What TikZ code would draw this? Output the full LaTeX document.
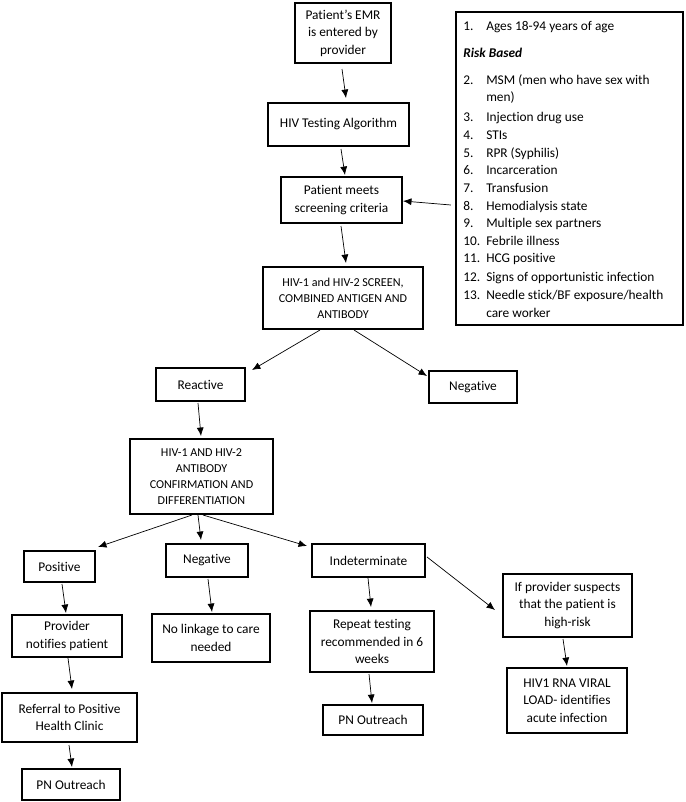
\documentclass[tikz,border=0pt]{standalone}
\usepackage{fontspec}
\setmainfont{Carlito}[Ligatures={TeX,NoCommon}]
\usetikzlibrary{arrows.meta}

\begin{document}
\begin{tikzpicture}[x=0.025cm,y=-0.025cm,
  box/.style 2 args={draw,line width=0.9pt,minimum width=#1,minimum height=#2,
    inner sep=0pt,outer sep=0pt,align=center,font=\fontsize{9.5}{12.4}\selectfont},
  capsbox/.style 2 args={box={#1}{#2},font=\fontsize{8.6}{11.4}\selectfont},
  arr/.style={line width=0.5pt,-{Latex[length=6pt,width=5pt]}},
  item/.style={anchor=base west,inner sep=0pt,font=\fontsize{9.5}{12.4}\selectfont}]
\useasboundingbox (0,0) rectangle (685,802);

% top of the chart
\node[box={2.4cm}{1.5cm}] (emr) at (343,33) {Patient's EMR\\is entered by\\provider};
\node[box={3.525cm}{1.075cm}] (alg) at (338.5,124.5) {HIV Testing Algorithm};
\node[box={3.025cm}{1.15cm}] (meets) at (341.5,200) {Patient meets\\screening criteria};
\node[box={5.675cm}{7.825cm}] (risk) at (569.5,168.5) {};
\node[capsbox={4cm}{1.55cm}] (screen) at (343,298) {HIV-1 and HIV-2 SCREEN,\\COMBINED ANTIGEN AND\\ANTIBODY};

% criteria list
\node[item] (r0) at (463,30) {1.};
\node[item] (r0t) at (486,30) {Ages 18-94 years of age};
\node[item] (rb) at (463,57) {\textbf{\textit{Risk Based}}};
\foreach \y/\n/\t [count=\i] in {84/2./MSM (men who have sex with, 101//men),
    121/3./Injection drug use, 139/4./STIs, 157/5./RPR (Syphilis),
    174/6./Incarceration, 192/7./Transfusion, 210/8./Hemodialysis state,
    227/9./Multiple sex partners, 245/10./Febrile illness, 262/11./HCG positive,
    281/12./Signs of opportunistic infection,
    299/13./{Needle stick/BF exposure/health}, 317//care worker}
{
  \node[item] (rn\i) at (463,\y) {\n};
  \node[item] (rt\i) at (486,\y) {\t};
}

% results
\node[box={2.225cm}{0.825cm}] (reactive) at (200.5,384.5) {Reactive};
\node[box={2.2cm}{0.8cm}] (neg1) at (473,387) {Negative};
\node[capsbox={3.575cm}{1.875cm}] (antibody) at (201.5,476.5) {HIV-1 AND HIV-2\\ANTIBODY\\CONFIRMATION AND\\DIFFERENTIATION};
\node[box={1.775cm}{0.775cm}] (pos) at (59.5,566.5) {Positive};
\node[box={2.05cm}{0.825cm}] (neg2) at (207,560.5) {Negative};
\node[box={2.825cm}{0.825cm}] (indet) at (368.5,560.5) {Indeterminate};

% follow-up
\node[box={2.75cm}{1.05cm}] (provider) at (67,636) {Provider\\notifies patient};
\node[box={2.95cm}{1.2cm}] (nolink) at (211,638) {No linkage to care\\needed};
\node[box={3.1cm}{1.525cm}] (repeat) at (372,641.5) {Repeat testing\\recommended in 6\\weeks};
\node[box={3.225cm}{1.575cm}] (suspect) at (567.5,605.5) {If provider suspects\\that the patient is\\high-risk};
\node[box={3cm}{1.625cm}] (rna) at (567,700.5) {HIV1 RNA VIRAL\\LOAD- identifies\\acute infection};
\node[box={2.5cm}{0.75cm}] (pn1) at (373,720) {PN Outreach};
\node[box={3.375cm}{1.225cm}] (referral) at (69.5,717.5) {Referral to Positive\\Health Clinic};
\node[box={2.45cm}{0.775cm}] (pn2) at (71,784.5) {PN Outreach};

% arrows
\draw[arr] ([shift={(-1,6)}]emr.south) -- ([shift={(7.5,-5)}]alg.north);
\draw[arr] ([shift={(2.5,3)}]alg.south) -- ([shift={(3.5,-2)}]meets.north);
\draw[arr] ([shift={(-5,36.5)}]risk.west) -- ([shift={(1,1)}]meets.east);
\draw[arr] ([shift={(-0.5,3)}]meets.south) -- ([shift={(3,-4)}]screen.north);
\draw[arr] ([shift={(-23,1)}]screen.south) -- ([shift={(7,2)}]reactive.north east);
\draw[arr] ([shift={(11,1)}]screen.south) -- ([shift={(-2,5)}]neg1.north west);
\draw[arr] ([shift={(-2.5,2)}]reactive.south) -- ([shift={(-0.5,-3)}]antibody.north);
\draw[arr] ([shift={(-9.5,1)}]antibody.south) -- ([shift={(3,-4)}]pos.north east);
\draw[arr] ([shift={(-3.5,1)}]antibody.south) -- ([shift={(-6,-4)}]neg2.north);
\draw[arr] ([shift={(1.5,1)}]antibody.south) -- ([shift={(-5,2)}]indet.north west);
\draw[arr] ([shift={(2.5,2)}]pos.south) -- ([shift={(-1,-2)}]provider.north);
\draw[arr] ([shift={(1,2)}]neg2.south) -- ([shift={(1,-2)}]nolink.north);
\draw[arr] ([shift={(-0.5,1)}]indet.south) -- ([shift={(-1,-4)}]repeat.north);
\draw[arr] ([shift={(2,-3.5)}]indet.east) -- ([shift={(-8,4.5)}]suspect.west);
\draw[arr] ([shift={(-3,2)}]repeat.south) -- ([shift={(-1,-2)}]pn1.north);
\draw[arr] ([shift={(-4.5,2)}]suspect.south) -- ([shift={(0,-2)}]rna.north);
\draw[arr] ([shift={(1,1)}]provider.south) -- ([shift={(2.5,-4)}]referral.north);
\draw[arr] ([shift={(-0.5,3)}]referral.south) -- ([shift={(1,-2)}]pn2.north);
\end{tikzpicture}
\end{document}
